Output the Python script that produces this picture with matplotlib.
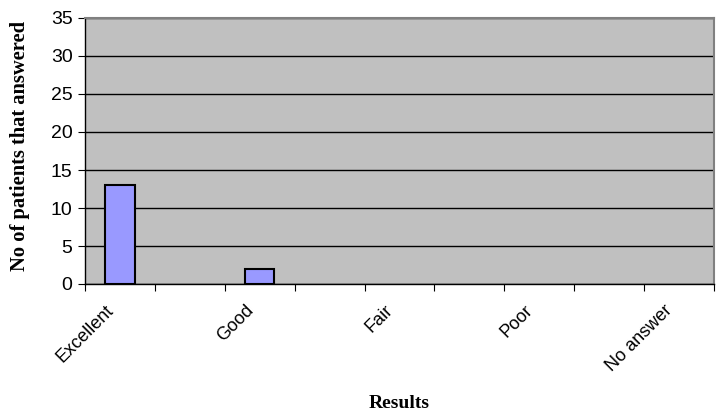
import numpy as np
import matplotlib
matplotlib.use("Agg")
from matplotlib import pyplot as plt
from matplotlib.transforms import ScaledTranslation

categories = ["Excellent", "", "Good", "", "Fair", "", "Poor", "", "No answer"]
patients = [13, 0, 2, 0, 0, 0, 0, 0, 0]
y_ticks = [0, 5, 10, 15, 20, 25, 30, 35]

fig = plt.figure(figsize=(7.17, 4.2), dpi=100)
ax = fig.add_axes([85 / 717, 1 - 284 / 420, 629 / 717, 266 / 420])
ax.set_facecolor("#C0C0C0")

x = np.arange(len(categories))
vals = np.array(patients)
mask = vals > 0
ax.bar(x[mask], vals[mask], width=0.42, color="#9999FF", edgecolor="black",
       linewidth=1.5, zorder=3)

ax.set_xlim(-0.5, len(categories) - 0.5)
ax.set_ylim(0, 35)
ax.set_yticks(y_ticks)
ax.yaxis.grid(True, color="black", linewidth=1, zorder=1)
ax.set_axisbelow(True)

# tick marks on the category borders, labels drawn by hand a bit left of centre
ax.set_xticks(np.arange(len(categories) + 1) - 0.5)
ax.set_xticklabels([])
ax.tick_params(axis="x", length=5, direction="out", color="black")
ax.tick_params(axis="y", length=5, direction="out", labelsize=14, pad=4)
for t in ax.get_yticklabels():
    t.set_family("Liberation Sans")

lab_tr = ax.get_xaxis_transform() + ScaledTranslation(-0.15, -0.18, fig.dpi_scale_trans)
for i, name in enumerate(categories):
    if name:
        ax.text(i, 0, name, transform=lab_tr, rotation=45, ha="right", va="top",
                rotation_mode="anchor", fontsize=13, family="Liberation Sans")

for s in ["top", "right"]:
    ax.spines[s].set_color("#808080")
    ax.spines[s].set_linewidth(1.5)
for s in ["left", "bottom"]:
    ax.spines[s].set_color("black")
    ax.spines[s].set_linewidth(1)

ax.set_ylabel("No of patients that answered", fontsize=14.8, fontweight="bold",
              family="Liberation Serif", va="center")
ax.yaxis.set_label_coords(-65 / 629, 0.52)
ax.set_xlabel("Results", fontsize=14, fontweight="bold", family="Liberation Serif",
              va="center")
ax.xaxis.set_label_coords(0.5, -119 / 266)

fig.savefig("out.png", dpi=100)
